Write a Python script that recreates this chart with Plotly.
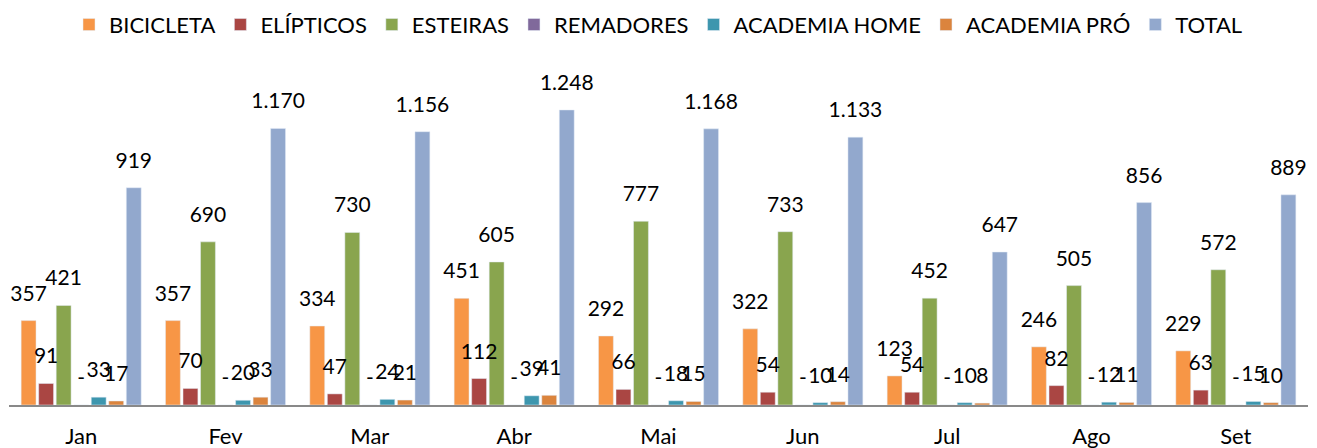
import plotly.graph_objects as go

months = ["Jan", "Fev", "Mar", "Abr", "Mai", "Jun", "Jul", "Ago", "Set"]
bicicleta = [357, 357, 334, 451, 292, 322, 123, 246, 229]
elipticos = [91, 70, 47, 112, 66, 54, 54, 82, 63]
esteiras = [421, 690, 730, 605, 777, 733, 452, 505, 572]
remadores = [0, 0, 0, 0, 0, 0, 0, 0, 0]
academia_home = [33, 20, 24, 39, 18, 10, 10, 12, 15]
academia_pro = [17, 33, 21, 41, 15, 14, 8, 11, 10]
total = [919, 1170, 1156, 1248, 1168, 1133, 647, 856, 889]

series = [
    ("BICICLETA", bicicleta, "#F79646"),
    ("ELÍPTICOS", elipticos, "#AA4643"),
    ("ESTEIRAS", esteiras, "#89A54E"),
    ("REMADORES", remadores, "#80699B"),
    ("ACADEMIA HOME", academia_home, "#3D96AE"),
    ("ACADEMIA PRÓ", academia_pro, "#DB843D"),
    ("TOTAL", total, "#92A8CD"),
]

FONT = "Lato"


def fmt(v):
    return "-" if v == 0 else f"{v:,}".replace(",", ".")


fig = go.Figure()
for name, vals, color in series:
    fig.add_trace(go.Bar(
        x=months, y=vals, name=name, marker_color=color,
        offsetgroup=name, hoverinfo="skip", cliponaxis=False,
    ))
for name, vals, color in series:
    fig.add_trace(go.Scatter(
        x=months, y=vals, mode="markers+text", text=[fmt(v) for v in vals],
        textposition="top center", offsetgroup=name, showlegend=False,
        marker=dict(size=22, color="rgba(0,0,0,0)"),
        textfont=dict(family=FONT, size=21, color="#000000"),
        cliponaxis=False, hoverinfo="skip",
    ))

fig.update_layout(
    width=1309, height=440,
    margin=dict(l=1, r=9, t=66, b=43),
    paper_bgcolor="white", plot_bgcolor="white",
    barmode="group", bargap=0.15, bargroupgap=0.15,
    scattermode="group", scattergap=0.15,
    font=dict(family=FONT, size=20, color="#000000"),
    legend=dict(orientation="h", x=0.5, xanchor="center",
                yref="container", y=0.962, yanchor="middle",
                font=dict(family=FONT, size=22), traceorder="normal"),
    showlegend=True,
)
fig.update_xaxes(showline=True, linecolor="#898989", linewidth=2, ticks="",
                 tickfont=dict(family=FONT, size=22), ticklabelstandoff=11,
                 automargin=False, showgrid=False, zeroline=False)
fig.update_yaxes(visible=False, range=[0, 1400], automargin=False)

fig.write_html("out.html")
